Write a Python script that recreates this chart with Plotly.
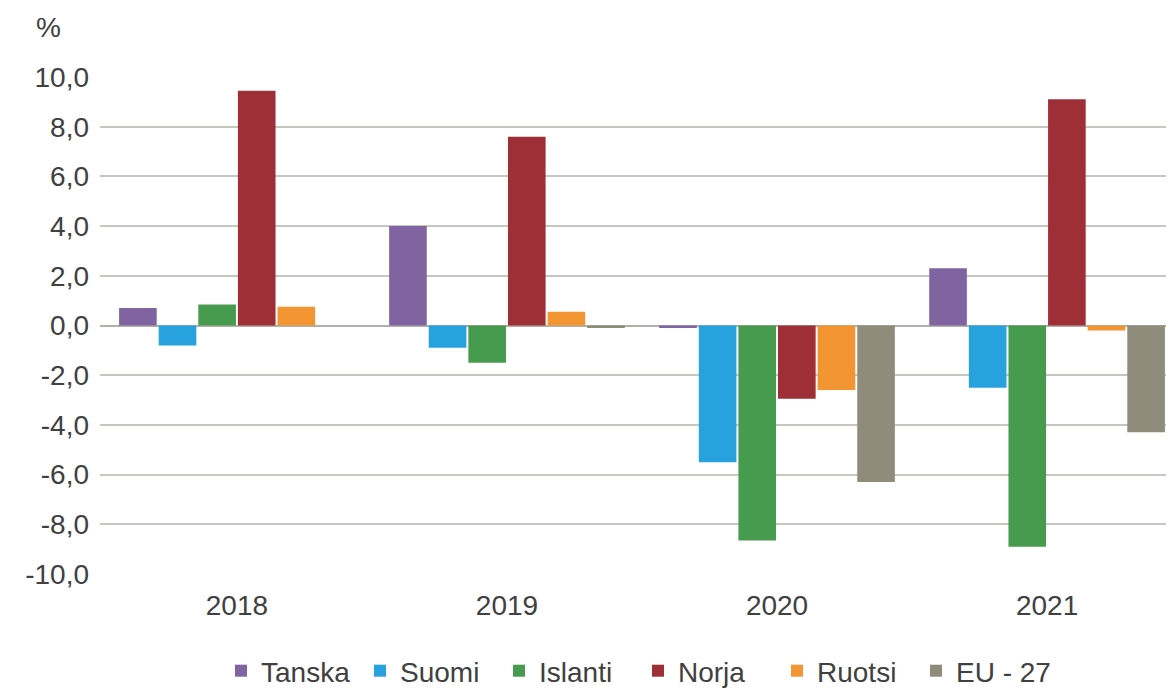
import plotly.graph_objects as go

years = ["2018", "2019", "2020", "2021"]
series_names = ["Tanska", "Suomi", "Islanti", "Norja", "Ruotsi", "EU - 27"]
tanska = [0.7, 4.0, -0.1, 2.3]
suomi = [-0.8, -0.9, -5.5, -2.5]
islanti = [0.85, -1.5, -8.65, -8.9]
norja = [9.45, 7.6, -2.95, 9.1]
ruotsi = [0.75, 0.55, -2.6, -0.2]
eu27 = [0.0, -0.1, -6.3, -4.3]
tick_vals = [-10, -8, -6, -4, -2, 0, 2, 4, 6, 8, 10]
tick_text = ["-10,0", "-8,0", "-6,0", "-4,0", "-2,0", "0,0", "2,0", "4,0", "6,0", "8,0", "10,0"]

colors = ["#8064A2", "#27A2DF", "#479B4E", "#9E2F37", "#F39533", "#8F8C7C"]
values = [tanska, suomi, islanti, norja, ruotsi, eu27]

FONT = "Liberation Sans, Arial, sans-serif"
FS = 28
fig = go.Figure()
for name, vals, col in zip(series_names, values, colors):
    fig.add_trace(go.Bar(x=years, y=vals, name=name, marker=dict(color=col, line=dict(width=0))))

# page body has an 8px margin, so the figure is drawn 8px in from the window corner
W, H = 1166, 681
L, T, B = 92, 69, 115
fig.update_layout(
    width=W, height=H,
    margin=dict(l=L, r=0, t=T, b=B, pad=0),
    paper_bgcolor="white", plot_bgcolor="white",
    barmode="group", bargap=0.12, bargroupgap=0.05,
    font=dict(family=FONT, size=FS, color="#404040"),
    showlegend=True,
    legend=dict(orientation="h", xref="container", yref="container",
                x=630 / W, xanchor="center", y=(H - 663) / H, yanchor="middle",
                font=dict(size=FS, color="#404040"), itemwidth=30,
                entrywidth=94, traceorder="normal"),
    xaxis=dict(type="category", range=[-0.507, 3.47], showgrid=False,
               showline=False, zeroline=False, ticks="", ticklabelstandoff=12,
               tickfont=dict(size=FS, color="#404040")),
    yaxis=dict(range=[-10, 10], tickvals=tick_vals, ticktext=tick_text,
               showgrid=True, gridcolor="#C6C6BE", gridwidth=1.5,
               zeroline=True, zerolinecolor="#B0B0A6", zerolinewidth=2,
               showline=False, ticks="", ticklabelstandoff=10,
               tickfont=dict(size=FS, color="#404040")),
    annotations=[dict(text="%", xref="paper", yref="paper",
                      x=(40 - L) / (W - L), y=(H - B - 19) / (H - B - T),
                      xanchor="center", yanchor="middle", showarrow=False,
                      font=dict(size=FS, color="#404040"))],
)
fig.write_html("out.html")
